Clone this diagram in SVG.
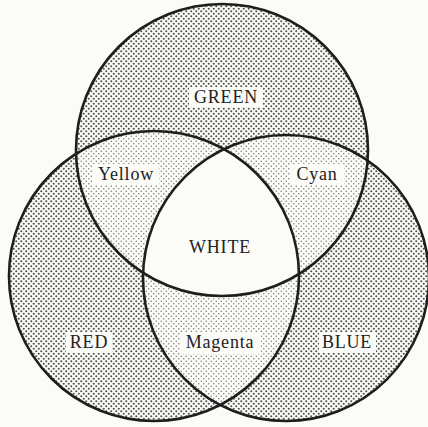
<svg xmlns="http://www.w3.org/2000/svg" width="428" height="427" viewBox="0 0 428 427">
<style>
.ring{fill:none;stroke:#1e1e1e;stroke-width:2.6}
.lbl{font-family:"Liberation Serif","Times New Roman",serif;font-size:18px;fill:#222;text-anchor:middle;letter-spacing:0.8px}
.halo{fill:#fbfbf8}
</style>
<defs>
<pattern id="dense" width="5" height="5" patternUnits="userSpaceOnUse">
<rect width="5" height="5" fill="#fbfbf8"/>
<circle cx="1.25" cy="1.25" r="1.05" fill="#505050"/>
<circle cx="3.75" cy="3.75" r="1.05" fill="#505050"/>
</pattern>
<pattern id="light" width="5" height="5" patternUnits="userSpaceOnUse">
<rect width="5" height="5" fill="#fbfbf8"/>
<circle cx="1.25" cy="1.25" r="0.75" fill="#777"/>
<circle cx="3.75" cy="3.75" r="0.75" fill="#777"/>
</pattern>
<clipPath id="cG"><circle cx="222" cy="150" r="146"/></clipPath>
<clipPath id="cR"><circle cx="154" cy="276" r="145"/></clipPath>
<clipPath id="cB"><circle cx="286" cy="278" r="143"/></clipPath>
</defs>
<rect width="428" height="427" fill="#fbfbf8"/>
<g id="fills">
<circle cx="222" cy="150" r="146" fill="url(#dense)"/>
<circle cx="154" cy="276" r="145" fill="url(#dense)"/>
<circle cx="286" cy="278" r="143" fill="url(#dense)"/>
<g clip-path="url(#cG)"><circle cx="154" cy="276" r="145" fill="url(#light)"/></g>
<g clip-path="url(#cG)"><circle cx="286" cy="278" r="143" fill="url(#light)"/></g>
<g clip-path="url(#cR)"><circle cx="286" cy="278" r="143" fill="url(#light)"/></g>
<g clip-path="url(#cG)"><g clip-path="url(#cR)"><circle cx="286" cy="278" r="143" fill="#fbfbf8"/></g></g>
</g>
<g id="circles">
<circle id="green" class="ring" cx="222" cy="150" r="146"/>
<circle id="red" class="ring" cx="154" cy="276" r="145"/>
<circle id="blue" class="ring" cx="286" cy="278" r="143"/>
</g>
<g id="label-green"><rect class="halo" x="189" y="87" width="74" height="20"/><text class="lbl" x="226" y="103">GREEN</text></g>
<g id="label-yellow"><rect class="halo" x="93" y="164" width="66" height="21"/><text class="lbl" x="126" y="180">Yellow</text></g>
<g id="label-cyan"><rect class="halo" x="290" y="164" width="54" height="21"/><text class="lbl" x="317" y="180">Cyan</text></g>
<g id="label-white"><text class="lbl" x="220" y="253">WHITE</text></g>
<g id="label-red"><rect class="halo" x="66" y="332" width="46" height="21"/><text class="lbl" x="89" y="348">RED</text></g>
<g id="label-magenta"><rect class="halo" x="180" y="332" width="81" height="22"/><text class="lbl" x="220" y="348">Magenta</text></g>
<g id="label-blue"><rect class="halo" x="319" y="332" width="57" height="21"/><text class="lbl" x="347" y="348">BLUE</text></g>
</svg>
